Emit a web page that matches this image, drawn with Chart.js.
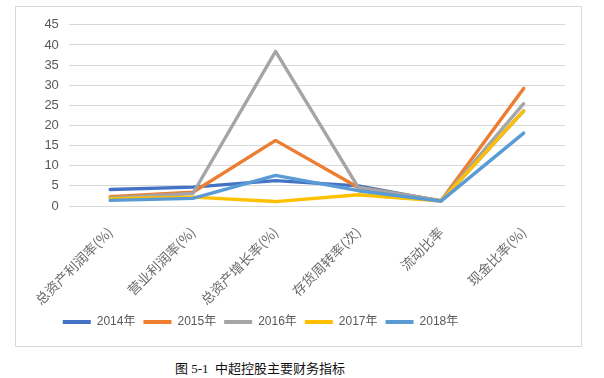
<!DOCTYPE html>
<html>
<head>
<meta charset="utf-8">
<script src="https://cdn.jsdelivr.net/npm/chart.js@4/dist/chart.umd.min.js"></script>
<style>
  html, body { margin: 0; padding: 0; background: #fff; }
  body { width: 604px; height: 378px; position: relative; overflow: hidden; }
  #box { position: absolute; left: 15px; top: 6px; width: 567px; height: 341px; border: 1px solid #D9D9D9; box-sizing: border-box; }
  #cap { position: absolute; left: 0; width: 520px; top: 358px; text-align: center; font-family: "Liberation Serif", "Noto Sans CJK SC", serif; font-size: 13px; color: #111; }
</style>
</head>
<body>
<div id="box"><canvas id="c" width="565" height="339"></canvas></div>
<div id="cap">图 5-1&nbsp;&nbsp;中超控股主要财务指标</div>
<script>
const categories = ["总资产利润率(%)", "营业利润率(%)", "总资产增长率(%)", "存货周转率(次)", "流动比率", "现金比率(%)"];
const seriesNames = ["2014年", "2015年", "2016年", "2017年", "2018年"];
const v2014 = [4.1, 4.7, 6.3, 5.0, 1.2, 23.6];
const v2015 = [2.3, 3.4, 16.3, 4.6, 1.3, 29.2];
const v2016 = [2.0, 3.1, 38.4, 4.6, 1.3, 25.4];
const v2017 = [1.8, 2.2, 1.1, 2.8, 1.2, 23.6];
const v2018 = [1.4, 1.9, 7.6, 3.8, 1.2, 18.1];
const yTicks = [0, 5, 10, 15, 20, 25, 30, 35, 40, 45];

const colors = ["#4472C4", "#ED7D31", "#A5A5A5", "#FFC000", "#5B9BD5"];
const values = [v2014, v2015, v2016, v2017, v2018];

const datasets = seriesNames.map((n, i) => ({
  label: n,
  data: values[i],
  order: seriesNames.length - i,
  borderColor: colors[i],
  backgroundColor: colors[i],
  borderWidth: 3.4,
  pointRadius: 0,
  borderCapStyle: 'round',
  borderJoinStyle: 'round',
  tension: 0,
  fill: false
}));

Chart.defaults.font.family = "'Liberation Sans', 'Noto Sans CJK SC', sans-serif";
Chart.defaults.color = "#595959";

const legendShift = {
  id: 'legendShift',
  beforeDraw(chart) {
    const lg = chart.legend;
    if (!lg._shifted) {
      lg.left -= 30; lg.right -= 30; lg._shifted = true;
    }
  }
};

new Chart(document.getElementById('c'), {
  type: 'line',
  data: { labels: categories, datasets },
  plugins: [legendShift],
  options: {
    responsive: false,
    animation: false,
    layout: { padding: { left: 0, right: 16, top: 12, bottom: 8 } },
    plugins: {
      legend: {
        position: 'bottom',
        labels: {
          boxWidth: 28, boxHeight: 4, padding: 8,
          color: "#595959",
          font: { size: 12 },
          generateLabels(chart) {
            return chart.data.datasets.map((d, i) => ({
              text: d.label, fillStyle: d.borderColor, strokeStyle: d.borderColor,
              lineWidth: 0, hidden: false, datasetIndex: i, fontColor: "#595959"
            }));
          }
        }
      },
      tooltip: { enabled: false }
    },
    scales: {
      x: {
        offset: true,
        afterFit(axis) { axis.height = 102; },
        grid: { display: false, drawTicks: false },
        border: { display: false },
        ticks: {
          autoSkip: false,
          maxRotation: 45, minRotation: 45, padding: 18,
          color: "#6a6a6a",
          font: { size: 13.5, family: "'Noto Sans CJK SC', sans-serif" }
        }
      },
      y: {
        min: 0, max: 45,
        afterBuildTicks(axis) { axis.ticks = yTicks.map(v => ({ value: v })); },
        afterFit(axis) { axis.width = 44; },
        grid: { color: "#D9D9D9", lineWidth: 1, drawTicks: false },
        border: { display: false },
        ticks: {
          padding: 10, color: "#595959",
          font: { size: 13 }
        }
      }
    }
  }
});
</script>
</body>
</html>
